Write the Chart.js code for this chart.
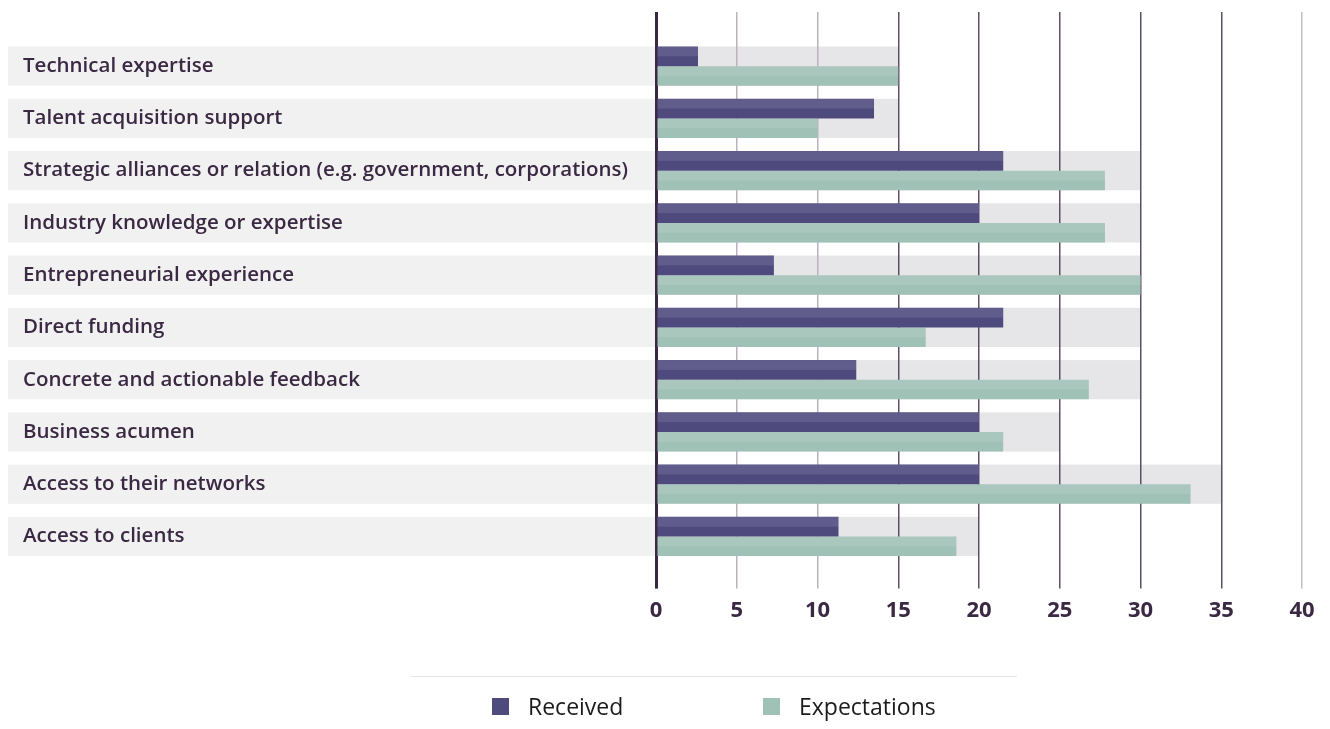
<!DOCTYPE html>
<html>
<head>
<meta charset="utf-8">
<script src="https://cdn.jsdelivr.net/npm/chart.js@4/dist/chart.umd.min.js"></script>
<style>
body{margin:0;background:#fff;font-family:"Open Sans",sans-serif;}
#wrap{position:relative;width:1330px;height:729px;}
#legend{position:absolute;left:411px;top:676px;width:606px;border-top:1px solid #e4e4e4;}
#legend ul{list-style:none;margin:0;padding:0;position:relative;height:52px;}
#legend li{position:absolute;top:13px;display:flex;align-items:center;font-size:23px;color:#1c1c1c;}
#legend li span{display:inline-block;width:17px;height:17px;margin-right:19px;}
</style>
</head>
<body>
<div id="wrap">
<canvas id="chart" width="1330" height="729"></canvas>
<div id="legend"></div>
</div>
<script>
const categories = [
"Technical expertise",
"Talent acquisition support",
"Strategic alliances or relation (e.g. government, corporations)",
"Industry knowledge or expertise",
"Entrepreneurial experience",
"Direct funding",
"Concrete and actionable feedback",
"Business acumen",
"Access to their networks",
"Access to clients"
];

const received = [2.6, 13.5, 21.5, 20, 7.3, 21.5, 12.4, 20, 20, 11.3];
const expectations = [15, 10, 27.8, 27.8, 30, 16.7, 26.8, 21.5, 33.1, 18.6];

// grey band behind each row ends at this value
const bandMax = [15, 15, 30, 30, 30, 30, 30, 25, 35, 20];

const xMin = 0;
const xMax = 40;
const xStep = 5;

const purple = "#4f4a7e";
const green = "#a0c1b6";
const ink = "#3b2843";

function gridColor(c){
  const v = c.tick ? c.tick.value : 0;
  if(v === 0) return ink;
  if(v === 5 || v === 10) return "#bab2be";
  if(v === 40) return "#c4bdc7";
  return "#5f4e68";
}
function gridWidth(c){
  return c.tick && c.tick.value === 0 ? 3 : 1.5;
}

// row bands: pale strip under the label, grey strip up to bandMax
const bands = {
  id: "bands",
  beforeDraw(chart){
    const {ctx, scales:{x, y}} = chart;
    const pitch = y.getPixelForValue(1) - y.getPixelForValue(0);
    const h = pitch * 0.75;
    ctx.save();
    categories.forEach((c, i) => {
      const cy = y.getPixelForValue(i);
      ctx.fillStyle = "#f0f1f0";
      ctx.fillRect(y.left - 15, cy - h/2, x.left - y.left + 15, h);
      ctx.fillStyle = "#e6e6e8";
      ctx.fillRect(x.left, cy - h/2, x.getPixelForValue(bandMax[i]) - x.left, h);
    });
    ctx.restore();
  }
};

// lighter upper half on every bar
const sheen = {
  id: "sheen",
  afterDatasetsDraw(chart){
    const ctx = chart.ctx;
    ctx.save();
    ctx.fillStyle = "rgba(255,255,255,0.1)";
    chart.data.datasets.forEach((d, di) => {
      chart.getDatasetMeta(di).data.forEach(bar => {
        const p = bar.getProps(["x","y","base","height"], true);
        ctx.fillRect(p.base, p.y - p.height/2, p.x - p.base, p.height/2);
      });
    });
    ctx.restore();
  }
};

const htmlLegend = {
  id: "htmlLegend",
  afterUpdate(chart){
    const box = document.getElementById("legend");
    const ul = document.createElement("ul");
    const spots = [81, 352];
    chart.data.datasets.forEach((d, i) => {
      const li = document.createElement("li");
      li.style.left = spots[i] + "px";
      const sw = document.createElement("span");
      sw.style.background = d.backgroundColor;
      li.appendChild(sw);
      li.appendChild(document.createTextNode(d.label));
      ul.appendChild(li);
    });
    box.innerHTML = "";
    box.appendChild(ul);
  }
};

const ctx = document.getElementById("chart");

const chart = new Chart(ctx, {
  type: "bar",
  data: {
    labels: categories,
    datasets: [
      {label: "Received", data: received, backgroundColor: purple},
      {label: "Expectations", data: expectations, backgroundColor: green}
    ]
  },
  options: {
    indexAxis: "y",
    responsive: false,
    animation: false,
    devicePixelRatio: 1,
    categoryPercentage: 0.75,
    barPercentage: 1,
    layout: {padding: {left: 23, right: 28, top: 12, bottom: 96}},
    plugins: {
      legend: {display: false},
      tooltip: {enabled: false}
    },
    scales: {
      x: {
        position: "bottom",
        min: xMin, max: xMax,
        ticks: {stepSize: xStep, color: ink, padding: 9,
          font: {family: "Open Sans", size: 22, weight: "bold"}},
        grid: {color: gridColor, lineWidth: gridWidth, tickLength: 26},
        border: {display: false}
      },
      xTop: {
        position: "top",
        min: xMin, max: xMax,
        ticks: {stepSize: xStep, display: false},
        grid: {color: gridColor, lineWidth: gridWidth, tickLength: 28, drawOnChartArea: false},
        border: {display: false}
      },
      y: {
        ticks: {crossAlign: "far", color: ink,
          font: {family: "Open Sans", size: 20.5, weight: "600"}},
        grid: {display: false},
        border: {display: false},
        afterFit(scale){ scale.width = 633; }
      }
    }
  },
  plugins: [bands, sheen, htmlLegend]
});
</script>
</body>
</html>
